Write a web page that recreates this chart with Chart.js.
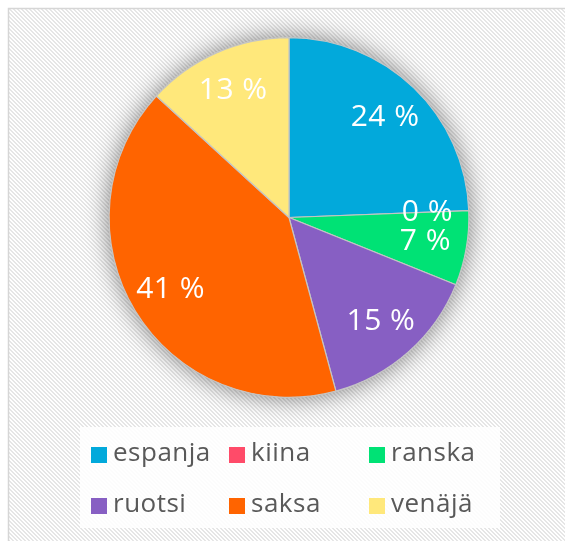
<!DOCTYPE html>
<html>
<head>
<meta charset="utf-8">
<script src="https://cdn.jsdelivr.net/npm/chart.js@4.4.1/dist/chart.umd.min.js"></script>
<style>
  html, body { margin: 0; padding: 0; background: #fff; }
  #wrap { width: 565px; height: 541px; position: relative; }
</style>
</head>
<body>
<div id="wrap"><canvas id="pie" width="565" height="541"></canvas></div>
<script>
"use strict";

// kielet (categories) and their shares
const kielet = ['espanja', 'kiina', 'ranska', 'ruotsi', 'saksa', 'venäjä'];
const osuudet = [24.4, 0, 6.7, 14.7, 41.0, 13.2];
const varit = ['#02A9DB', '#FF4B69', '#00E275', '#875FC3', '#FF6400', '#FFE87B'];

const FONT = '"Open Sans", "Liberation Sans", sans-serif';

// striped background + frame
function stripePattern(ctx) {
  const c = document.createElement('canvas');
  c.width = 4; c.height = 4;
  const g = c.getContext('2d');
  g.fillStyle = '#ffffff';
  g.fillRect(0, 0, 4, 4);
  g.fillStyle = '#e6e6e6';
  for (let i = 0; i < 4; i++) {
    g.fillRect(i, i, 1, 1);
    g.fillRect((i + 1) % 4, i, 1, 1);
  }
  return ctx.createPattern(c, 'repeat');
}

const taustaPlugin = {
  id: 'tausta',
  beforeDraw(chart) {
    const ctx = chart.ctx;
    ctx.save();
    ctx.fillStyle = '#ffffff';
    ctx.fillRect(0, 0, chart.width, chart.height);
    ctx.fillStyle = stripePattern(ctx);
    ctx.fillRect(8, 8, chart.width - 8, chart.height - 8);
    ctx.strokeStyle = '#d6d6d6';
    ctx.lineWidth = 1.5;
    ctx.beginPath();
    ctx.moveTo(8.5, chart.height);
    ctx.lineTo(8.5, 8.5);
    ctx.lineTo(chart.width, 8.5);
    ctx.stroke();
    ctx.restore();
  },
  beforeDatasetsDraw(chart) {
    // soft halo under the pie
    const arc = chart.getDatasetMeta(0).data[0];
    if (!arc) return;
    const ctx = chart.ctx;
    ctx.save();
    ctx.shadowColor = 'rgba(0,0,0,0.5)';
    ctx.shadowBlur = 24;
    ctx.fillStyle = '#ffffff';
    ctx.beginPath();
    ctx.arc(arc.x, arc.y, arc.outerRadius, 0, Math.PI * 2);
    ctx.fill();
    ctx.restore();
  }
};

// percentage labels inside slices
const prosenttiPlugin = {
  id: 'prosentit',
  afterDatasetsDraw(chart) {
    const ctx = chart.ctx;
    const data = chart.data.datasets[0].data;
    const total = data.reduce((a, b) => a + b, 0);
    ctx.save();
    ctx.fillStyle = '#ffffff';
    ctx.font = '30px ' + FONT;
    ctx.letterSpacing = '0.5px';
    ctx.textAlign = 'center';
    ctx.textBaseline = 'middle';
    chart.getDatasetMeta(0).data.forEach((arc, i) => {
      const mid = (arc.startAngle + arc.endAngle) / 2;
      const d = arc.outerRadius * 0.77;
      const x = arc.x + Math.cos(mid) * d;
      const y = arc.y + Math.sin(mid) * d;
      ctx.fillText(Math.round(data[i] / total * 100) + ' %', x, y);
    });
    ctx.restore();
  }
};

// legend in a 3x2 grid on a white box
const selitePlugin = {
  id: 'selite',
  afterDraw(chart) {
    const ctx = chart.ctx;
    ctx.save();
    ctx.fillStyle = 'rgba(255,255,255,0.85)';
    ctx.fillRect(80, 427, 420, 101);
    const colX = [91, 229, 369];
    const rowY = [447, 498];
    ctx.font = '26px ' + FONT;
    ctx.letterSpacing = '0.5px';
    ctx.textBaseline = 'middle';
    chart.data.labels.forEach((lab, i) => {
      const x = colX[i % 3];
      const y = rowY[Math.floor(i / 3)];
      ctx.fillStyle = chart.data.datasets[0].backgroundColor[i];
      ctx.fillRect(x, y, 16, 16);
      ctx.fillStyle = '#595959';
      ctx.fillText(lab, x + 22, y + 7);
    });
    ctx.restore();
  }
};

new Chart(document.getElementById('pie'), {
  type: 'pie',
  data: {
    labels: kielet,
    datasets: [{
      data: osuudet,
      backgroundColor: varit,
      borderColor: '#c4c4c4',
      borderWidth: 1.2
    }]
  },
  options: {
    responsive: false,
    animation: false,
    layout: { padding: { top: 37, bottom: 143, left: 13, right: 0 } },
    plugins: {
      legend: { display: false },
      tooltip: { enabled: false }
    }
  },
  plugins: [taustaPlugin, prosenttiPlugin, selitePlugin]
});
</script>
</body>
</html>
